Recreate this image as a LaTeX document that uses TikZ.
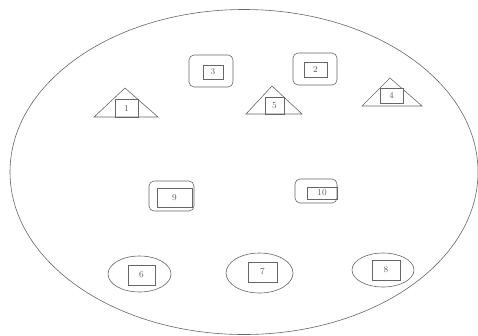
\documentclass[tikz,border=0pt]{standalone}
\usetikzlibrary{shapes.geometric}
\begin{document}
\begin{tikzpicture}[x=1pt,y=-1pt]
    % Style definitions
    \tikzset{numbox/.style={rectangle, draw=gray!80!black, line width=0.6pt, inner sep=0pt, font=\small, text=gray!70!black},
             roundbox/.style={rectangle, rounded corners=5pt, draw=gray!80!black, line width=0.6pt, inner sep=0pt},
             ovalbox/.style={ellipse, draw=gray!80!black, line width=0.6pt, inner sep=0pt},
             roof/.style={draw=gray!80!black, line width=0.6pt}}
    \useasboundingbox (0,0) rectangle (478,335);

    % Outer ellipse
    \node (world) [ovalbox, minimum width=468, minimum height=325] at (244,172) {};

    % Boxes in the top row
    \node (out3) [roundbox, minimum width=44, minimum height=32] at (211,71) {};
    \node (in3) [numbox, minimum width=20, minimum height=14] at (213,72) {3};
    \node (out2) [roundbox, minimum width=44, minimum height=32] at (315,69) {};
    \node (in2) [numbox, minimum width=23, minimum height=15] at (315.5,69.5) {2};

    % Triangles with boxes
    \draw [roof] (94,117) -- (125,88) -- (158,117) -- cycle;
    \node (in1) [numbox, minimum width=23, minimum height=18] at (126.5,108) {1};
    \draw [roof] (246,114) -- (272,86) -- (302,114) -- cycle;
    \node (in5) [numbox, minimum width=19, minimum height=17] at (274.5,105.5) {5};
    \draw [roof] (362,106) -- (390,78) -- (422,106) -- cycle;
    \node (in4) [numbox, fill=white, minimum width=23, minimum height=15] at (391.5,95.5) {4};

    % Middle row
    \node (out9) [roundbox, minimum width=45, minimum height=30] at (171.5,196) {};
    \node (in9) [numbox, minimum width=35, minimum height=19] at (174.5,197.5) {9};
    \node (out10) [roundbox, minimum width=42, minimum height=24] at (316,191) {};
    \node (in10) [numbox, minimum width=30, minimum height=12] at (322,193) {10};

    % Bottom row in ellipses
    \node (out6) [ovalbox, minimum width=63, minimum height=36] at (139.5,274) {};
    \node (in6) [numbox, minimum width=27, minimum height=20] at (141.5,275) {6};
    \node (out7) [ovalbox, minimum width=67, minimum height=40] at (259.5,273) {};
    \node (in7) [numbox, minimum width=29, minimum height=20] at (262.5,272) {7};
    \node (out8) [ovalbox, minimum width=62, minimum height=34] at (383,270) {};
    \node (in8) [numbox, minimum width=28, minimum height=20] at (386,270) {8};
\end{tikzpicture}
\end{document}
